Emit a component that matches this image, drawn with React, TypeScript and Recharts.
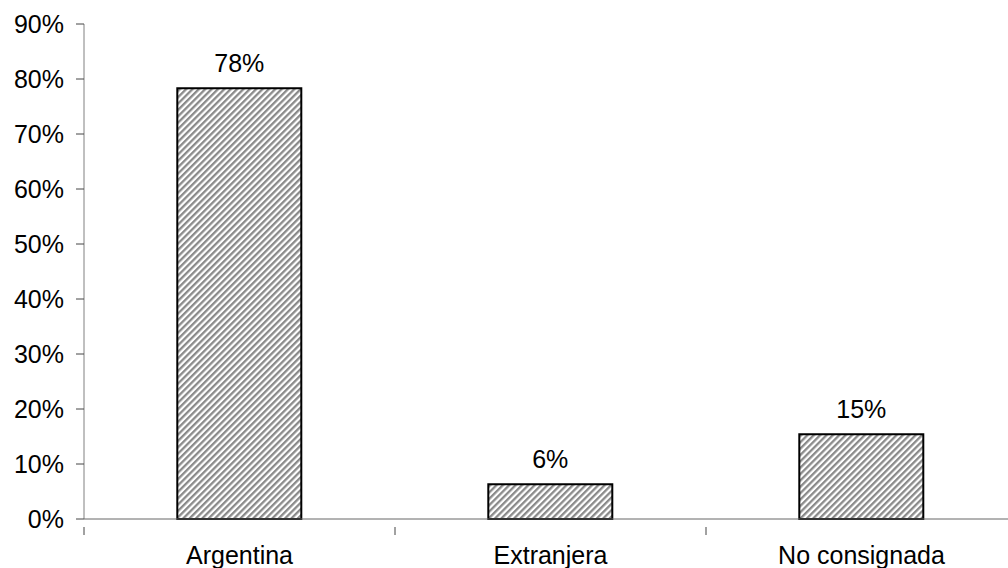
import { BarChart, Bar, XAxis, YAxis, LabelList } from 'recharts'

const categories = ['Argentina', 'Extranjera', 'No consignada']
const shares = [0.783, 0.063, 0.154]
const yTicks = [0, 0.1, 0.2, 0.3, 0.4, 0.5, 0.6, 0.7, 0.8, 0.9]

const data = categories.map((name, i) => ({ name, share: shares[i] }))

const font = { fontFamily: '"Liberation Sans", Arial, sans-serif', fontSize: 25, fill: '#000' }
const pct = (v: number) => `${Math.round(v * 100)}%`

/* tick del eje X en el borde de cada categoría, no en el centro */
function BoundaryTick(props: any) {
  const { x, y, payload } = props
  const left = x - (payload.offset ?? 0)
  return (
    <g>
      <line x1={left} y1={y - 19} x2={left} y2={y - 11} stroke="#444" strokeWidth={1} />
      <text x={x} y={y} dy="0.71em" textAnchor="middle" {...font}>{payload.value}</text>
    </g>
  )
}

export default function App() {
  return (
    <div style={{ position: 'absolute', left: 0, top: 0, background: '#fff' }}>
      <BarChart
        width={1020}
        height={568}
        data={data}
        margin={{ top: 24, right: 3, bottom: 0, left: 0 }}
        barCategoryGap="30%"
      >
        <defs>
          <pattern id="hatch" width="4.5" height="4.5" patternUnits="userSpaceOnUse" patternTransform="rotate(45)">
            <rect width="4.5" height="4.5" fill="#fff" />
            <rect width="2.3" height="4.5" fill="#8a8a8a" />
          </pattern>
        </defs>
        <YAxis
          width={84}
          domain={[0, 0.9]}
          ticks={yTicks}
          tickFormatter={pct}
          tick={font}
          tickSize={8}
          tickMargin={12}
          stroke="#808080"
          tickLine={{ stroke: '#444' }}
        />
        <XAxis
          dataKey="name"
          height={49}
          tick={<BoundaryTick />}
          tickSize={8}
          tickMargin={19}
          tickLine={false}
          stroke="#666"
        />
        <Bar dataKey="share" fill="url(#hatch)" stroke="#000" strokeWidth={2} isAnimationActive={false}>
          <LabelList dataKey="share" position="top" offset={16} formatter={(v: any) => pct(Number(v))} style={font} />
        </Bar>
      </BarChart>
    </div>
  )
}
